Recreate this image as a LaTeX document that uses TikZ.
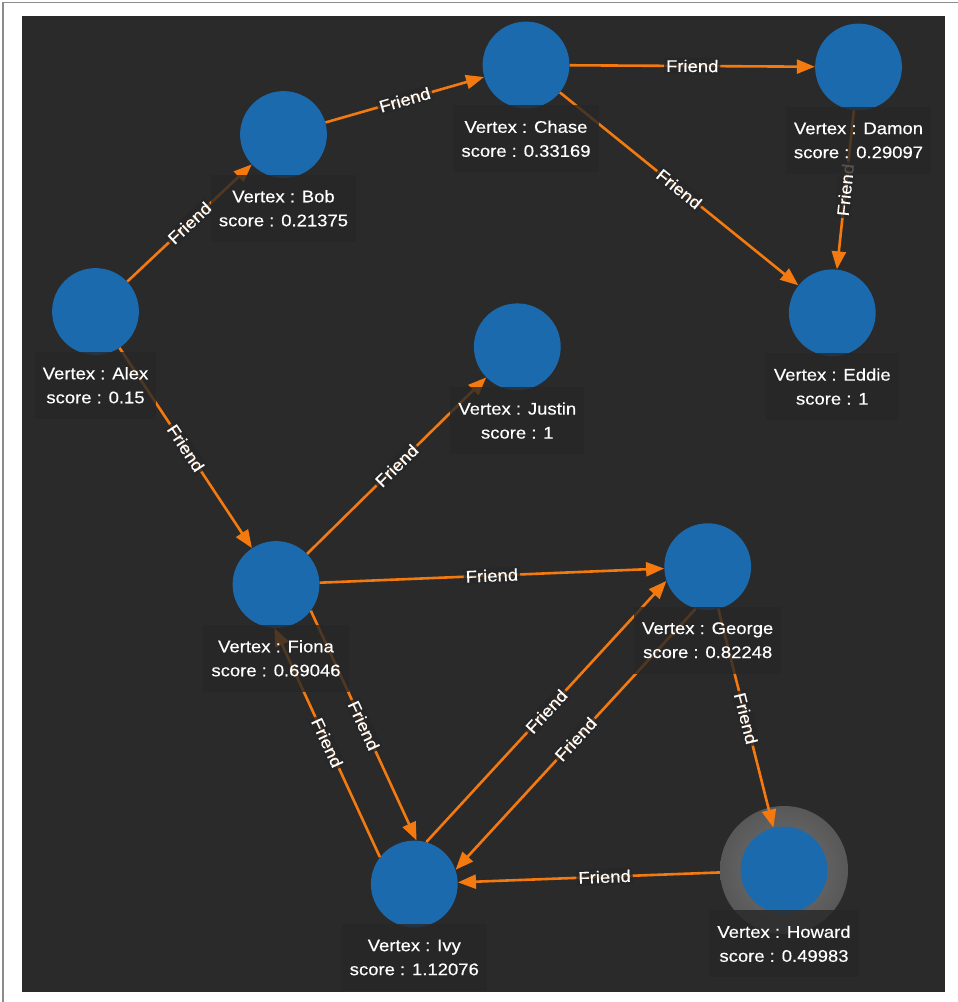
\documentclass[tikz,border=0pt]{standalone}
\usepackage{fontspec}
\usetikzlibrary{arrows.meta,calc}
\newfontfamily\lblface[FakeStretch=1.1,FakeBold=0.4]{Liberation Sans}

\definecolor{canvasbg}{RGB}{42,42,42}
\definecolor{lblbg}{RGB}{39,39,39}
\definecolor{vblue}{RGB}{27,106,174}
\definecolor{eorange}{RGB}{244,122,16}
\definecolor{halogray}{RGB}{88,88,88}
\definecolor{framegray}{RGB}{140,140,140}

\tikzset{
  vertex/.style={circle, fill=vblue, minimum size=65.1pt, inner sep=0pt},
  halo/.style={circle, inner color=halogray!85!white, outer color=halogray,
    minimum size=96pt, inner sep=0pt},
  vlabel/.style={anchor=north, fill=lblbg, fill opacity=0.8, text opacity=1,
    text=white, align=center, font=\lblface\fontsize{12.6pt}{18pt}\selectfont,
    inner xsep=6pt, inner ysep=11.5pt},
  edge/.style={draw=eorange, line width=1.95pt,
    -{Triangle[length=13.5pt,width=10.5pt]}},
  elabel/.style={sloped, fill=lblbg, fill opacity=0.8, text opacity=1,
    text=white, font=\lblface\fontsize{12.6pt}{14pt}\selectfont, inner sep=1.5pt}
}

\begin{document}
\begin{tikzpicture}[x=0.75pt, y=-0.75pt]
  \useasboundingbox (0,0) rectangle (957,1002);
  % page, frame and canvas
  \fill[white] (0,0) rectangle (957,1002);
  \draw[framegray, line width=1.1pt] (3,2.5) rectangle (980,1030);
  \fill[canvasbg] (22,16) rectangle (945,992);

  % highlight ring behind Howard
  \node[halo] (howardHalo) at (784,870) {};

  % vertices
  \node[vertex] (alex)   at (95.5,311.5) {};
  \node[vertex] (bob)    at (283.5,134.5) {};
  \node[vertex] (chase)  at (526,65) {};
  \node[vertex] (damon)  at (858.5,67) {};
  \node[vertex] (eddie)  at (832.3,312.8) {};
  \node[vertex] (justin) at (517.3,346.8) {};
  \node[vertex] (fiona)  at (276,584.5) {};
  \node[vertex] (george) at (707.7,566.7) {};
  \node[vertex] (ivy)    at (414.3,884) {};
  \node[vertex] (howard) at (784,870) {};

  % friendship edges
  \draw[edge] (alex) -- (bob) node[elabel, midway] {Friend};
  \draw[edge] (bob) -- (chase) node[elabel, midway] {Friend};
  \draw[edge] (chase) -- (damon) node[elabel, midway] {Friend};
  \draw[edge] (chase) -- (eddie) node[elabel, midway] {Friend};
  \draw[edge] (damon) -- (eddie) node[elabel, midway] {Friend};
  \draw[edge] (alex) -- (fiona) node[elabel, midway] {Friend};
  \draw[edge] (fiona) -- (justin) node[elabel, midway] {Friend};
  \draw[edge] (fiona) -- (george) node[elabel, midway] {Friend};
  \draw[edge] (fiona.-37.8) -- (ivy.87.4) node[elabel, midway] {Friend};
  \draw[edge] (ivy.142.2) -- (fiona.-92.6) node[elabel, midway] {Friend};
  \draw[edge] (ivy.74.6) -- (george.199.8) node[elabel, midway] {Friend};
  \draw[edge] (george.254.6) -- (ivy.19.8) node[elabel, midway] {Friend};
  \draw[edge] (george) -- (howard) node[elabel, midway] {Friend};
  \draw[edge] (howardHalo) -- (ivy) node[elabel, pos=0.44] {Friend};

  % vertex captions
  \node[vlabel] (alexL)   at ($(alex)+(0,40)$)   {Vertex : Alex\\score : 0.15};
  \node[vlabel] (bobL)    at ($(bob)+(0,40)$)    {Vertex : Bob\\score : 0.21375};
  \node[vlabel] (chaseL)  at ($(chase)+(0,40)$)  {Vertex : Chase\\score : 0.33169};
  \node[vlabel] (damonL)  at ($(damon)+(0,40)$)  {Vertex : Damon\\score : 0.29097};
  \node[vlabel] (eddieL)  at ($(eddie)+(0,40)$)  {Vertex : Eddie\\score : 1};
  \node[vlabel] (justinL) at ($(justin)+(0,40)$) {Vertex : Justin\\score : 1};
  \node[vlabel] (fionaL)  at ($(fiona)+(0,40)$)  {Vertex : Fiona\\score : 0.69046};
  \node[vlabel] (georgeL) at ($(george)+(0,40)$) {Vertex : George\\score : 0.82248};
  \node[vlabel] (ivyL)    at ($(ivy)+(0,40)$)    {Vertex : Ivy\\score : 1.12076};
  \node[vlabel] (howardL) at ($(howard)+(0,40)$) {Vertex : Howard\\score : 0.49983};
\end{tikzpicture}
\end{document}
